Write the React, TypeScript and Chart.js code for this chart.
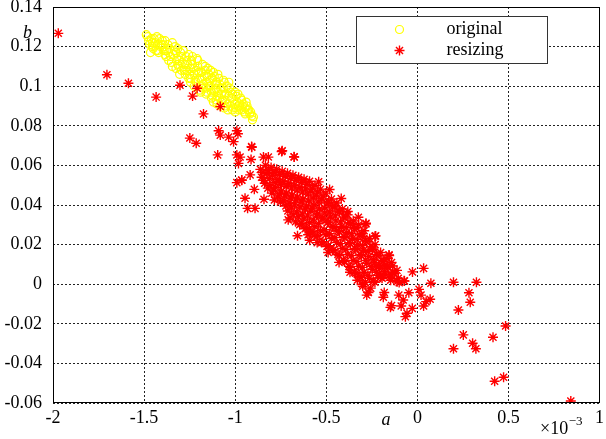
import React, { useEffect, useRef } from "react";
import { Chart, registerables } from "chart.js";

Chart.register(...registerables);

// a values are in units of 1e-3 (axis shows ×10^-3)
const originalA = [
  -1.48, -1.47, -1.46, -1.45, -1.44, -1.43, -1.42, -1.41, -1.40, -1.39, -1.38, -1.37, -1.36, -1.35,
  -1.34, -1.33, -1.32, -1.31, -1.30, -1.29, -1.28, -1.27, -1.26, -1.25, -1.24, -1.23, -1.22, -1.21,
  -1.20, -1.19, -1.18, -1.17, -1.16, -1.15, -1.14, -1.13, -1.12, -1.11, -1.10, -1.09, -1.08, -1.07,
  -1.06, -1.05, -1.04, -1.03, -1.02, -1.01, -1.00, -0.99, -0.98, -0.97, -0.96, -0.95, -0.94, -0.93,
  -0.92, -0.91,
  -1.465, -1.435, -1.415, -1.395, -1.375, -1.355, -1.345, -1.325, -1.305, -1.285, -1.265, -1.255,
  -1.245, -1.235, -1.215, -1.205, -1.195, -1.185, -1.175, -1.165, -1.155, -1.145, -1.135, -1.125,
  -1.115, -1.105, -1.095, -1.085, -1.075, -1.065, -1.055, -1.045, -1.035, -1.025, -1.015, -1.005,
  -0.995, -0.985, -0.975, -0.965, -0.955, -0.945, -0.935, -1.225, -1.275, -1.315, -1.365, -1.425,
  -1.455, -1.245, -1.185, -1.135, -1.085, -1.488,
  -1.475, -1.455, -1.445, -1.425, -1.405, -1.385, -1.385, -1.365, -1.345, -1.335, -1.315, -1.295,
  -1.295, -1.275, -1.265, -1.245, -1.235, -1.225, -1.205, -1.195, -1.175, -1.165, -1.155, -1.145,
  -1.125, -1.115, -1.105, -1.095, -1.075, -1.065, -1.055, -1.035, -1.025, -1.015, -0.995, -0.985,
  -0.965, -0.945, -0.925, -0.915, -1.215, -1.255, -1.325, -1.305, -1.155, -1.105,
  -1.13, -1.10, -1.08, -1.06, -1.12, -1.16, -1.19, -1.04, -1.00, -0.90, -0.905,
];
const originalB = [
  0.125, 0.121, 0.124, 0.119, 0.122, 0.125, 0.117, 0.120, 0.123, 0.118, 0.115, 0.121, 0.119, 0.112,
  0.116, 0.120, 0.114, 0.110, 0.117, 0.112, 0.108, 0.115, 0.111, 0.106, 0.113, 0.109, 0.103, 0.114,
  0.107, 0.100, 0.111, 0.105, 0.099, 0.109, 0.103, 0.097, 0.107, 0.101, 0.095, 0.104, 0.099, 0.093,
  0.102, 0.096, 0.091, 0.099, 0.094, 0.089, 0.097, 0.092, 0.088, 0.094, 0.090, 0.087, 0.092, 0.088,
  0.086, 0.085,
  0.117, 0.118, 0.124, 0.121, 0.118, 0.115, 0.122, 0.117, 0.113, 0.118, 0.108, 0.116,
  0.104, 0.111, 0.108, 0.110, 0.104, 0.107, 0.101, 0.108, 0.102, 0.106, 0.100, 0.104,
  0.098, 0.102, 0.097, 0.101, 0.096, 0.099, 0.093, 0.100, 0.095, 0.090, 0.096, 0.091,
  0.095, 0.090, 0.091, 0.088, 0.091, 0.089, 0.090, 0.106, 0.111, 0.119, 0.117, 0.121,
  0.122, 0.109, 0.103, 0.108, 0.094, 0.126,
  0.123, 0.120, 0.124, 0.118, 0.121, 0.116, 0.123, 0.113, 0.110, 0.118, 0.111, 0.108,
  0.115, 0.106, 0.113, 0.102, 0.115, 0.100, 0.113, 0.098, 0.099, 0.110, 0.097, 0.100,
  0.095, 0.105, 0.093, 0.106, 0.092, 0.103, 0.090, 0.102, 0.097, 0.088, 0.089, 0.096,
  0.093, 0.086, 0.088, 0.087, 0.102, 0.104, 0.109, 0.106, 0.105, 0.099,
  0.094, 0.091, 0.090, 0.089, 0.092, 0.096, 0.097, 0.088, 0.087, 0.0845, 0.083,
];

const resizingA = [
  // scattered points
  -1.971, -1.704, -1.586, -1.434, -1.303, -1.209, -1.234, -1.082, -1.174, -1.091, -1.082, -1.036,
  -1.009, -0.991, -0.985, -1.249, -1.214, -1.096, -0.991, -0.982, -0.91, -0.913, -0.742, -0.677,
  -0.991, -0.964, -0.918, -0.895, -0.946, -0.932, -0.891, -0.842, -0.973, -0.845, -0.818, -0.964,
  -0.785, -0.709, -0.658, -0.591, -0.3, -0.233, -0.245, -0.155, -0.182, -0.136, -0.227, -0.2,
  -0.145, -0.3, -0.269, -0.182, -0.187, -0.142, -0.148, -0.1, -0.073, -0.111, -0.071, -0.027,
  0.034, 0.074, 0.009, 0.02, 0.07, 0.048, 0.034, -0.028, -0.066, -0.057, -0.089, -0.102,
  -0.078, -0.047, -0.278, -0.229, -0.283, -0.202, -0.156, 0.198, 0.324, 0.283, 0.29, 0.225,
  0.484, 0.415, 0.198, 0.252, 0.303, 0.321, 0.473, 0.424, 0.842, -0.909, -0.676, -0.745,
  -0.542, -0.482, -0.418, -0.382, -0.324, -0.282,
  // dense cluster
  -0.862, -0.855, -0.834, -0.826, -0.838, -0.803, -0.796, -0.808, -0.799, -0.772, -0.765, -0.778,
  -0.768, -0.742, -0.737, -0.746, -0.733, -0.713, -0.706, -0.717, -0.704, -0.711, -0.683, -0.676,
  -0.687, -0.674, -0.682, -0.652, -0.645, -0.657, -0.644, -0.653, -0.646, -0.622, -0.615, -0.627,
  -0.614, -0.623, -0.616, -0.592, -0.585, -0.597, -0.584, -0.593, -0.586, -0.562, -0.555, -0.567,
  -0.554, -0.563, -0.556, -0.532, -0.525, -0.537, -0.524, -0.533, -0.526, -0.502, -0.495, -0.507,
  -0.494, -0.503, -0.496, -0.472, -0.465, -0.477, -0.464, -0.473, -0.466, -0.442, -0.435, -0.447,
  -0.434, -0.443, -0.436, -0.412, -0.405, -0.417, -0.404, -0.413, -0.406, -0.382, -0.375, -0.387,
  -0.374, -0.383, -0.376, -0.352, -0.345, -0.357, -0.344, -0.353, -0.346, -0.322, -0.315, -0.327,
  -0.314, -0.323, -0.316, -0.292, -0.285, -0.297, -0.284, -0.293, -0.286, -0.262, -0.255, -0.267,
  -0.254, -0.263, -0.256, -0.232, -0.225, -0.237, -0.224, -0.233, -0.202, -0.195, -0.207, -0.194,
  -0.172, -0.165, -0.177, -0.142, -0.135, -0.147, -0.112, -0.105,
  -0.848, -0.842, -0.818, -0.812, -0.821, -0.787, -0.781, -0.79, -0.757, -0.751, -0.758, -0.752,
  -0.727, -0.721, -0.728, -0.722, -0.697, -0.691, -0.698, -0.692, -0.699, -0.667, -0.661, -0.668,
  -0.662, -0.669, -0.637, -0.631, -0.638, -0.632, -0.639, -0.607, -0.601, -0.608, -0.602, -0.609,
  -0.577, -0.571, -0.578, -0.572, -0.579, -0.547, -0.541, -0.548, -0.542, -0.549, -0.517, -0.511,
  -0.518, -0.512, -0.519, -0.487, -0.481, -0.488, -0.482, -0.489, -0.457, -0.451, -0.458, -0.452,
  -0.459, -0.427, -0.421, -0.428, -0.422, -0.429, -0.397, -0.391, -0.398, -0.392, -0.399, -0.367,
  -0.361, -0.368, -0.362, -0.369, -0.337, -0.331, -0.338, -0.332, -0.339, -0.307, -0.301, -0.308,
  -0.302, -0.309, -0.277, -0.271, -0.278, -0.272, -0.247, -0.241, -0.248, -0.242, -0.217, -0.211,
  -0.218, -0.187, -0.181, -0.157, -0.151, -0.127,
  -0.49, -0.43, -0.37, -0.33, -0.30, -0.27, -0.55, -0.60,
];
const resizingB = [
  0.1267, 0.1058, 0.1015, 0.0945, 0.1005, 0.099, 0.095, 0.0897, 0.086, 0.0775, 0.0753, 0.0743,
  0.072, 0.0775, 0.076, 0.0738, 0.0712, 0.0653, 0.0653, 0.061, 0.0695, 0.063, 0.0674, 0.0644,
  0.0513, 0.0526, 0.0552, 0.0479, 0.0434, 0.0383, 0.0383, 0.0429, 0.0642, 0.0642, 0.0642, 0.0525,
  0.0425, 0.0325, 0.0245, 0.0222, 0.0242, 0.0242, 0.0183, 0.0145, 0.0092, 0.0092, 0.0092, 0.0042,
  0.0042, 0.0, -0.0042, -0.0042, -0.0066, -0.0108, -0.0117, 0.0008, 0.0017, 0.0013, 0.0016, 0.0062,
  0.008, 0.0005, -0.0026, -0.0055, -0.0076, -0.0088, -0.011, -0.0122, -0.0164, -0.0147, -0.011, -0.0055,
  -0.008, -0.0043, -0.0055, 0.0244, 0.0304, 0.0035, 0.0148, 0.001, 0.001, -0.0043, -0.0091, -0.013,
  -0.0211, -0.0268, -0.0326, -0.0256, -0.0298, -0.0326, -0.047, -0.049, -0.059, 0.0692, 0.0642, 0.067,
  0.0517, 0.0478, 0.0433, 0.0367, 0.0338, 0.0308,
  0.058, 0.054, 0.060, 0.056, 0.051, 0.059, 0.055, 0.050, 0.046, 0.058, 0.053, 0.049,
  0.044, 0.057, 0.052, 0.047, 0.042, 0.056, 0.051, 0.046, 0.041, 0.037, 0.055, 0.050,
  0.045, 0.040, 0.035, 0.054, 0.049, 0.044, 0.039, 0.034, 0.030, 0.053, 0.048, 0.043,
  0.038, 0.033, 0.028, 0.052, 0.047, 0.042, 0.037, 0.031, 0.026, 0.050, 0.045, 0.040,
  0.035, 0.029, 0.024, 0.048, 0.043, 0.038, 0.033, 0.027, 0.021, 0.046, 0.041, 0.036,
  0.031, 0.025, 0.019, 0.043, 0.039, 0.034, 0.029, 0.023, 0.017, 0.041, 0.037, 0.032,
  0.027, 0.021, 0.015, 0.038, 0.034, 0.029, 0.024, 0.018, 0.012, 0.035, 0.031, 0.026,
  0.021, 0.015, 0.009, 0.032, 0.028, 0.023, 0.018, 0.012, 0.006, 0.030, 0.025, 0.020,
  0.015, 0.009, 0.004, 0.027, 0.022, 0.017, 0.012, 0.006, 0.001, 0.023, 0.019, 0.014,
  0.009, 0.003, -0.002, 0.020, 0.015, 0.011, 0.006, 0.001, 0.016, 0.012, 0.008, 0.003,
  0.013, 0.009, 0.005, 0.011, 0.006, 0.002, 0.007, 0.003,
  0.0565, 0.0525, 0.0575, 0.0535, 0.0485, 0.0565, 0.0515, 0.0475, 0.0555, 0.0505, 0.0455, 0.0415,
  0.0545, 0.0495, 0.0445, 0.0395, 0.0535, 0.0485, 0.0435, 0.0385, 0.0335, 0.0525, 0.0475, 0.0425,
  0.0365, 0.0315, 0.0515, 0.0465, 0.0415, 0.0355, 0.0305, 0.0505, 0.0455, 0.0395, 0.0345, 0.0285,
  0.0485, 0.0435, 0.0385, 0.0325, 0.0265, 0.0465, 0.0415, 0.0355, 0.0305, 0.0245, 0.0445, 0.0385,
  0.0335, 0.0275, 0.0215, 0.0415, 0.0365, 0.0315, 0.0255, 0.0195, 0.0395, 0.0345, 0.0285, 0.0235,
  0.0175, 0.0365, 0.0315, 0.0265, 0.0205, 0.0145, 0.0335, 0.0285, 0.0235, 0.0175, 0.0115, 0.0305,
  0.0255, 0.0205, 0.0145, 0.0085, 0.0285, 0.0225, 0.0175, 0.0115, 0.0055, 0.0255, 0.0195, 0.0145,
  0.0085, 0.0035, 0.0215, 0.0165, 0.0105, 0.0045, 0.0175, 0.0125, 0.0075, 0.0015, 0.0145, 0.0095,
  0.0045, 0.0115, 0.0065, 0.0085, 0.0035, 0.0055,
  0.016, 0.011, 0.006, 0.002, -0.001, -0.004, 0.021, 0.025,
];

const seriesNames = ["original", "resizing"];
const xTicks = [-2, -1.5, -1, -0.5, 0, 0.5, 1];
const xTickLabels = ["-2", "-1.5", "-1", "-0.5", "0", "0.5", "1"];
const yTicks = [-0.06, -0.04, -0.02, 0, 0.02, 0.04, 0.06, 0.08, 0.1, 0.12, 0.14];
const yTickLabels = ["-0.06", "-0.04", "-0.02", "0", "0.02", "0.04", "0.06", "0.08", "0.1", "0.12", "0.14"];
const xAxisLabel = "a";
const yAxisLabel = "b";
const xExponentBase = "×10";
const xExponent = "−3";

const FONT = "'Liberation Serif', 'Times New Roman', serif";

export default function App() {
  const ref = useRef<HTMLCanvasElement>(null);

  useEffect(() => {
    document.body.style.margin = "0";
    const canvas = ref.current;
    if (!canvas) return;

    const overlay = {
      id: "overlay",
      afterDatasetsDraw(chart: any) {
        const { ctx, chartArea } = chart;
        const { left, right, top, bottom } = chartArea;
        ctx.save();
        ctx.setLineDash([]);
        ctx.strokeStyle = "#000";
        ctx.lineWidth = 1;
        ctx.strokeRect(Math.round(left) + 0.5, Math.round(top) + 0.5, Math.round(right - left) - 1, Math.round(bottom - top) - 1);

        // legend
        const lx = 356, ly = 16, lw = 191, lh = 47;
        ctx.fillStyle = "#fff";
        ctx.fillRect(lx, ly, lw, lh);
        ctx.strokeStyle = "#333";
        ctx.strokeRect(lx + 0.5, ly + 0.5, lw, lh);
        ctx.font = `18px ${FONT}`;
        ctx.fillStyle = "#000";
        ctx.textAlign = "left";
        ctx.textBaseline = "alphabetic";
        ctx.fillText(seriesNames[0], 446.5, 33.5);
        ctx.fillText(seriesNames[1], 446.5, 55);
        ctx.strokeStyle = "#ffff00";
        ctx.lineWidth = 1.2;
        ctx.beginPath();
        ctx.arc(399.5, 29.5, 4, 0, Math.PI * 2);
        ctx.stroke();
        ctx.strokeStyle = "#ff0000";
        ctx.lineWidth = 1.4;
        ctx.beginPath();
        const cx = 399.5, cy = 50.5, r = 5;
        for (let k = 0; k < 4; k++) {
          const ang = (k * Math.PI) / 4;
          ctx.moveTo(cx - Math.cos(ang) * r, cy - Math.sin(ang) * r);
          ctx.lineTo(cx + Math.cos(ang) * r, cy + Math.sin(ang) * r);
        }
        ctx.stroke();

        // axis labels
        ctx.fillStyle = "#000";
        ctx.font = `italic 18px ${FONT}`;
        ctx.textAlign = "center";
        ctx.fillText(xAxisLabel, 386, 425);
        ctx.textAlign = "left";
        ctx.fillText(yAxisLabel, 23, 38);
        ctx.font = `18px ${FONT}`;
        ctx.fillText(xExponentBase, 540, 434);
        const w = ctx.measureText(xExponentBase).width;
        ctx.font = `13px ${FONT}`;
        ctx.fillText(xExponent, 540 + w + 0.5, 425);
        ctx.restore();
      },
    };

    const chart = new Chart(canvas, {
      type: "scatter",
      data: {
        datasets: [
          {
            label: seriesNames[0],
            data: originalA.map((a, i) => ({ x: a, y: originalB[i] })),
            pointStyle: "circle",
            pointRadius: 4,
            borderColor: "#ffff00",
            backgroundColor: "rgba(0,0,0,0)",
            borderWidth: 1.2,
            order: 2,
          },
          {
            label: seriesNames[1],
            data: resizingA.map((a, i) => ({ x: a, y: resizingB[i] })),
            pointStyle: "star",
            pointRadius: 5,
            borderColor: "#ff0000",
            backgroundColor: "#ff0000",
            borderWidth: 1.4,
            order: 1,
          },
        ],
      },
      options: {
        responsive: false,
        animation: false,
        devicePixelRatio: 1,
        layout: { padding: { top: 7, right: 2, left: 0, bottom: 0 } },
        plugins: { legend: { display: false }, tooltip: { enabled: false } },
        scales: {
          x: {
            type: "linear",
            min: -2,
            max: 1,
            afterBuildTicks: (s: any) => {
              s.ticks = xTicks.map((v) => ({ value: v }));
            },
            afterFit: (s: any) => {
              s.height = 36;
              s.paddingLeft = 0;
              s.paddingRight = 0;
            },
            ticks: {
              callback: (_v: any, i: number) => xTickLabels[i],
              font: { family: FONT, size: 18 },
              color: "#000",
              padding: 4,
              maxRotation: 0,
              autoSkip: false,
            },
            grid: { color: "#222", lineWidth: 1, drawTicks: false },
            border: { display: false, dash: [2, 2] },
          },
          y: {
            type: "linear",
            min: -0.06,
            max: 0.14,
            afterBuildTicks: (s: any) => {
              s.ticks = yTicks.map((v) => ({ value: v }));
            },
            afterFit: (s: any) => {
              s.width = 53;
              s.paddingTop = 0;
              s.paddingBottom = 0;
            },
            ticks: {
              callback: (_v: any, i: number) => yTickLabels[i],
              font: { family: FONT, size: 18 },
              color: "#000",
              padding: 11,
              autoSkip: false,
            },
            grid: { color: "#222", lineWidth: 1, drawTicks: false },
            border: { display: false, dash: [2, 2] },
          },
        },
      },
      plugins: [overlay],
    });

    return () => chart.destroy();
  }, []);

  return (
    <canvas
      ref={ref}
      width={606}
      height={439}
      style={{ display: "block", width: 606, height: 439 }}
    />
  );
}
